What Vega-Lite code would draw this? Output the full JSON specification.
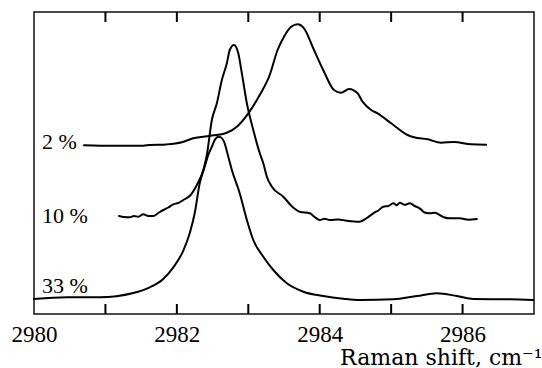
{
  "$schema": "https://vega.github.io/schema/vega-lite/v6.json",
  "width": 500,
  "height": 302,
  "autosize": {"type": "none"},
  "padding": {"left": 34, "top": 12, "right": 8, "bottom": 54},
  "background": "white",
  "config": {
    "view": {"stroke": "#111", "strokeWidth": 1.5},
    "axis": {"grid": false, "domain": false}
  },
  "datasets": {
    "spectra": [
      {"series": "2%", "shift": 2980.70, "intensity": 168.7},
      {"series": "2%", "shift": 2981.10, "intensity": 168.2},
      {"series": "2%", "shift": 2981.53, "intensity": 168.3},
      {"series": "2%", "shift": 2981.62, "intensity": 169.0},
      {"series": "2%", "shift": 2981.85, "intensity": 169.6},
      {"series": "2%", "shift": 2982.07, "intensity": 171.7},
      {"series": "2%", "shift": 2982.23, "intensity": 175.7},
      {"series": "2%", "shift": 2982.46, "intensity": 178.0},
      {"series": "2%", "shift": 2982.70, "intensity": 181.3},
      {"series": "2%", "shift": 2982.84, "intensity": 187.3},
      {"series": "2%", "shift": 2983.00, "intensity": 200.7},
      {"series": "2%", "shift": 2983.16, "intensity": 219.0},
      {"series": "2%", "shift": 2983.30, "intensity": 239.0},
      {"series": "2%", "shift": 2983.41, "intensity": 264.0},
      {"series": "2%", "shift": 2983.50, "intensity": 277.3},
      {"series": "2%", "shift": 2983.60, "intensity": 287.3},
      {"series": "2%", "shift": 2983.69, "intensity": 289.7},
      {"series": "2%", "shift": 2983.78, "intensity": 285.7},
      {"series": "2%", "shift": 2983.92, "intensity": 264.0},
      {"series": "2%", "shift": 2984.06, "intensity": 242.3},
      {"series": "2%", "shift": 2984.20, "intensity": 224.0},
      {"series": "2%", "shift": 2984.30, "intensity": 221.3},
      {"series": "2%", "shift": 2984.41, "intensity": 225.0},
      {"series": "2%", "shift": 2984.53, "intensity": 220.7},
      {"series": "2%", "shift": 2984.60, "intensity": 212.3},
      {"series": "2%", "shift": 2984.72, "intensity": 204.0},
      {"series": "2%", "shift": 2984.81, "intensity": 200.7},
      {"series": "2%", "shift": 2985.00, "intensity": 190.7},
      {"series": "2%", "shift": 2985.23, "intensity": 179.0},
      {"series": "2%", "shift": 2985.32, "intensity": 176.7},
      {"series": "2%", "shift": 2985.51, "intensity": 174.7},
      {"series": "2%", "shift": 2985.70, "intensity": 171.3},
      {"series": "2%", "shift": 2985.88, "intensity": 172.0},
      {"series": "2%", "shift": 2986.12, "intensity": 169.7},
      {"series": "2%", "shift": 2986.33, "intensity": 169.3},

      {"series": "10%", "shift": 2981.19, "intensity": 98.0},
      {"series": "10%", "shift": 2981.26, "intensity": 97.0},
      {"series": "10%", "shift": 2981.34, "intensity": 96.7},
      {"series": "10%", "shift": 2981.40, "intensity": 98.0},
      {"series": "10%", "shift": 2981.46, "intensity": 97.2},
      {"series": "10%", "shift": 2981.53, "intensity": 99.7},
      {"series": "10%", "shift": 2981.60, "intensity": 98.0},
      {"series": "10%", "shift": 2981.67, "intensity": 98.0},
      {"series": "10%", "shift": 2981.74, "intensity": 101.0},
      {"series": "10%", "shift": 2981.81, "intensity": 104.0},
      {"series": "10%", "shift": 2981.88, "intensity": 106.5},
      {"series": "10%", "shift": 2981.95, "intensity": 109.7},
      {"series": "10%", "shift": 2982.02, "intensity": 111.0},
      {"series": "10%", "shift": 2982.09, "intensity": 114.0},
      {"series": "10%", "shift": 2982.18, "intensity": 118.0},
      {"series": "10%", "shift": 2982.28, "intensity": 129.0},
      {"series": "10%", "shift": 2982.37, "intensity": 144.0},
      {"series": "10%", "shift": 2982.42, "intensity": 159.0},
      {"series": "10%", "shift": 2982.49, "intensity": 194.0},
      {"series": "10%", "shift": 2982.56, "intensity": 210.7},
      {"series": "10%", "shift": 2982.63, "intensity": 234.0},
      {"series": "10%", "shift": 2982.70, "intensity": 250.7},
      {"series": "10%", "shift": 2982.74, "intensity": 264.0},
      {"series": "10%", "shift": 2982.80, "intensity": 269.0},
      {"series": "10%", "shift": 2982.86, "intensity": 260.7},
      {"series": "10%", "shift": 2982.91, "intensity": 240.7},
      {"series": "10%", "shift": 2982.98, "intensity": 210.7},
      {"series": "10%", "shift": 2983.07, "intensity": 184.0},
      {"series": "10%", "shift": 2983.16, "intensity": 161.0},
      {"series": "10%", "shift": 2983.21, "intensity": 150.7},
      {"series": "10%", "shift": 2983.26, "intensity": 137.3},
      {"series": "10%", "shift": 2983.33, "intensity": 127.3},
      {"series": "10%", "shift": 2983.49, "intensity": 117.3},
      {"series": "10%", "shift": 2983.62, "intensity": 107.0},
      {"series": "10%", "shift": 2983.72, "intensity": 102.3},
      {"series": "10%", "shift": 2983.86, "intensity": 100.7},
      {"series": "10%", "shift": 2983.93, "intensity": 97.0},
      {"series": "10%", "shift": 2984.00, "intensity": 94.0},
      {"series": "10%", "shift": 2984.07, "intensity": 95.2},
      {"series": "10%", "shift": 2984.14, "intensity": 94.0},
      {"series": "10%", "shift": 2984.26, "intensity": 94.6},
      {"series": "10%", "shift": 2984.38, "intensity": 93.3},
      {"series": "10%", "shift": 2984.56, "intensity": 92.3},
      {"series": "10%", "shift": 2984.66, "intensity": 96.0},
      {"series": "10%", "shift": 2984.75, "intensity": 100.7},
      {"series": "10%", "shift": 2984.82, "intensity": 103.5},
      {"series": "10%", "shift": 2984.89, "intensity": 107.3},
      {"series": "10%", "shift": 2984.96, "intensity": 108.0},
      {"series": "10%", "shift": 2985.03, "intensity": 110.7},
      {"series": "10%", "shift": 2985.08, "intensity": 108.8},
      {"series": "10%", "shift": 2985.12, "intensity": 111.3},
      {"series": "10%", "shift": 2985.19, "intensity": 109.2},
      {"series": "10%", "shift": 2985.26, "intensity": 110.7},
      {"series": "10%", "shift": 2985.33, "intensity": 108.0},
      {"series": "10%", "shift": 2985.40, "intensity": 105.7},
      {"series": "10%", "shift": 2985.47, "intensity": 101.5},
      {"series": "10%", "shift": 2985.54, "intensity": 100.7},
      {"series": "10%", "shift": 2985.61, "intensity": 101.2},
      {"series": "10%", "shift": 2985.68, "intensity": 99.0},
      {"series": "10%", "shift": 2985.75, "intensity": 96.5},
      {"series": "10%", "shift": 2985.82, "intensity": 95.7},
      {"series": "10%", "shift": 2985.96, "intensity": 95.7},
      {"series": "10%", "shift": 2986.08, "intensity": 94.3},
      {"series": "10%", "shift": 2986.20, "intensity": 95.0},

      {"series": "33%", "shift": 2980.00, "intensity": 15.0},
      {"series": "33%", "shift": 2980.46, "intensity": 16.7},
      {"series": "33%", "shift": 2980.92, "intensity": 16.7},
      {"series": "33%", "shift": 2981.39, "intensity": 21.0},
      {"series": "33%", "shift": 2981.62, "intensity": 26.7},
      {"series": "33%", "shift": 2981.81, "intensity": 35.0},
      {"series": "33%", "shift": 2981.95, "intensity": 46.7},
      {"series": "33%", "shift": 2982.09, "intensity": 63.3},
      {"series": "33%", "shift": 2982.18, "intensity": 80.7},
      {"series": "33%", "shift": 2982.25, "intensity": 100.7},
      {"series": "33%", "shift": 2982.32, "intensity": 130.7},
      {"series": "33%", "shift": 2982.39, "intensity": 147.3},
      {"series": "33%", "shift": 2982.44, "intensity": 159.0},
      {"series": "33%", "shift": 2982.49, "intensity": 167.3},
      {"series": "33%", "shift": 2982.53, "intensity": 174.0},
      {"series": "33%", "shift": 2982.58, "intensity": 177.3},
      {"series": "33%", "shift": 2982.62, "intensity": 176.5},
      {"series": "33%", "shift": 2982.66, "intensity": 172.3},
      {"series": "33%", "shift": 2982.72, "intensity": 157.3},
      {"series": "33%", "shift": 2982.77, "intensity": 144.0},
      {"series": "33%", "shift": 2982.88, "intensity": 120.7},
      {"series": "33%", "shift": 2982.98, "intensity": 94.0},
      {"series": "33%", "shift": 2983.07, "intensity": 74.0},
      {"series": "33%", "shift": 2983.21, "intensity": 57.3},
      {"series": "33%", "shift": 2983.35, "intensity": 44.0},
      {"series": "33%", "shift": 2983.54, "intensity": 30.7},
      {"series": "33%", "shift": 2983.77, "intensity": 22.3},
      {"series": "33%", "shift": 2984.05, "intensity": 18.0},
      {"series": "33%", "shift": 2984.33, "intensity": 15.3},
      {"series": "33%", "shift": 2984.56, "intensity": 14.0},
      {"series": "33%", "shift": 2985.03, "intensity": 14.7},
      {"series": "33%", "shift": 2985.36, "intensity": 18.0},
      {"series": "33%", "shift": 2985.64, "intensity": 20.7},
      {"series": "33%", "shift": 2985.92, "intensity": 18.0},
      {"series": "33%", "shift": 2986.15, "intensity": 15.0},
      {"series": "33%", "shift": 2986.66, "intensity": 14.7},
      {"series": "33%", "shift": 2986.99, "intensity": 14.0}
    ],
    "pctlabels": [
      {"label": "2 %", "level": 172},
      {"label": "10 %", "level": 98},
      {"label": "33 %", "level": 28.5}
    ],
    "tickmarks": [
      {"pos": 2981}, {"pos": 2982}, {"pos": 2983}, {"pos": 2984}, {"pos": 2985}, {"pos": 2986}
    ]
  },
  "layer": [
    {
      "data": {"name": "spectra"},
      "mark": {"type": "line", "color": "black", "strokeWidth": 2, "strokeJoin": "round", "strokeCap": "round", "interpolate": "monotone"},
      "encoding": {
        "x": {
          "field": "shift", "type": "quantitative",
          "scale": {"domain": [2980, 2987], "nice": false, "zero": false},
          "axis": {
            "orient": "bottom",
            "values": [2980, 2982, 2984, 2986],
            "format": "d",
            "ticks": false,
            "labelFont": "Liberation Serif", "labelFontSize": 23, "labelColor": "black",
            "labelPadding": 9, "labelFlush": false, "labelOverlap": false,
            "title": "Raman shift, cm⁻¹",
            "titleFont": "DejaVu Serif", "titleFontSize": 22, "titleFontWeight": "normal", "titleColor": "black",
            "titleAnchor": "end", "titleAlign": "right", "titleX": 508, "titleY": 50, "titleBaseline": "alphabetic"
          }
        },
        "y": {
          "field": "intensity", "type": "quantitative",
          "scale": {"domain": [0, 302], "nice": false, "zero": false},
          "axis": null
        },
        "detail": {"field": "series"}
      }
    },
    {
      "data": {"name": "pctlabels"},
      "mark": {"type": "text", "align": "left", "baseline": "middle", "font": "Liberation Serif", "fontSize": 22, "color": "black", "dx": 8},
      "encoding": {
        "x": {"datum": 2980, "type": "quantitative"},
        "y": {"field": "level", "type": "quantitative"},
        "text": {"field": "label"}
      }
    },
    {
      "data": {"name": "tickmarks"},
      "mark": {"type": "rule", "color": "black", "strokeWidth": 2},
      "encoding": {
        "x": {"field": "pos", "type": "quantitative"},
        "y": {"datum": 0, "type": "quantitative"},
        "y2": {"datum": 10}
      }
    },
    {
      "data": {"name": "tickmarks"},
      "mark": {"type": "rule", "color": "black", "strokeWidth": 2},
      "encoding": {
        "x": {"field": "pos", "type": "quantitative"},
        "y": {"datum": 292, "type": "quantitative"},
        "y2": {"datum": 302}
      }
    }
  ]
}
